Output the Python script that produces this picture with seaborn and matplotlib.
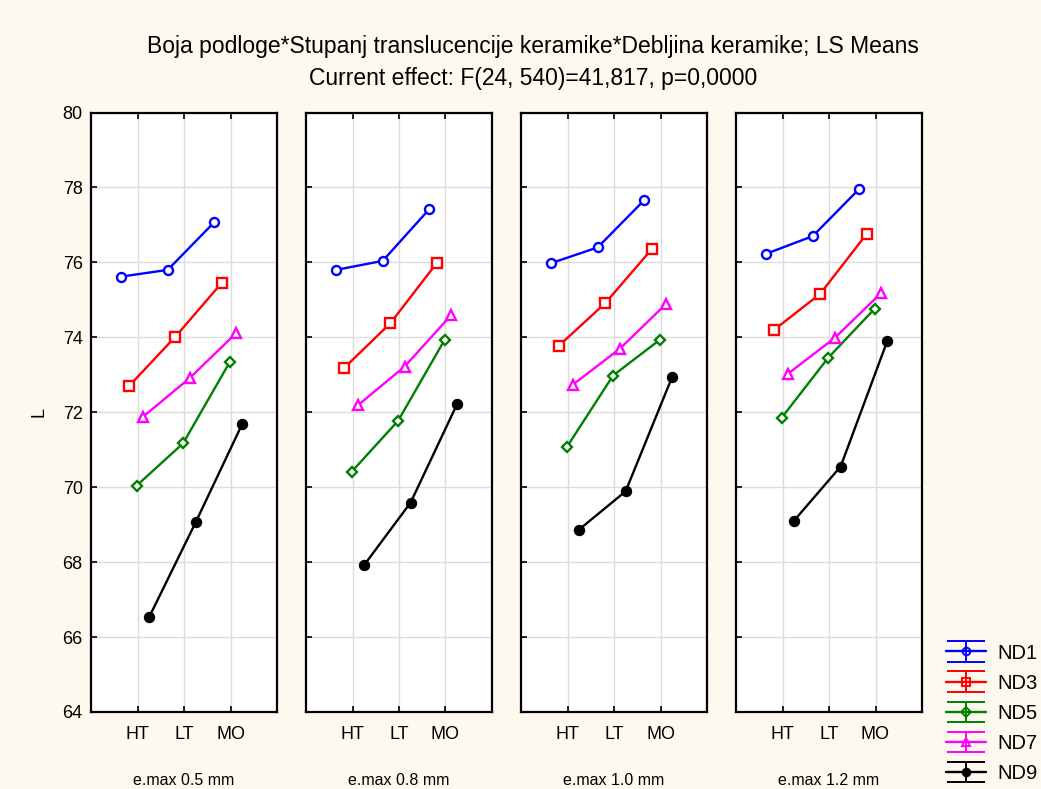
import numpy as np
import pandas as pd
import matplotlib
matplotlib.use("Agg")
import matplotlib.pyplot as plt
import seaborn as sns

# ---- data ----
panels = ["e.max 0.5 mm", "e.max 0.8 mm", "e.max 1.0 mm", "e.max 1.2 mm"]
categories = ["HT", "LT", "MO"]
series = ["ND1", "ND3", "ND5", "ND7", "ND9"]

nd1 = [[75.62, 75.80, 77.07], [75.80, 76.04, 77.42], [75.98, 76.40, 77.66], [76.23, 76.70, 77.96]]
nd3 = [[72.69, 74.01, 75.45], [73.17, 74.37, 75.98], [73.77, 74.91, 76.35], [74.19, 75.16, 76.76]]
nd5 = [[70.04, 71.17, 73.33], [70.41, 71.77, 73.93], [71.06, 72.98, 73.93], [71.85, 73.45, 74.76]]
nd7 = [[71.88, 72.91, 74.11], [72.19, 73.22, 74.59], [72.74, 73.69, 74.89], [73.03, 73.98, 75.18]]
nd9 = [[66.53, 69.06, 71.68], [67.92, 69.59, 72.22], [68.87, 69.89, 72.94], [69.11, 70.55, 73.89]]
values = {"ND1": nd1, "ND3": nd3, "ND5": nd5, "ND7": nd7, "ND9": nd9}

# styling
colors = {"ND1": "#0000ff", "ND3": "#ff0000", "ND5": "#008000", "ND7": "#ff00ff", "ND9": "#000000"}
markers = {"ND1": "o", "ND3": "s", "ND5": "D", "ND7": "^", "ND9": "o"}
filled = {"ND1": False, "ND3": False, "ND5": False, "ND7": False, "ND9": True}
offsets = {"ND1": -0.35, "ND3": -0.19, "ND5": -0.02, "ND7": 0.12, "ND9": 0.25}

rows = []
for s in series:
    for p, pname in enumerate(panels):
        for c, cat in enumerate(categories):
            rows.append({"panel": pname, "cat": cat, "series": s,
                         "x": c + 1 + offsets[s], "L": values[s][p][c]})
df = pd.DataFrame(rows)

sns.set_theme(style="white")
plt.rcParams["font.family"] = ["Liberation Sans", "DejaVu Sans"]
for key in ["text.color", "axes.labelcolor", "xtick.color", "ytick.color"]:
    plt.rcParams[key] = "black"
bg = "#fdf9ef"

fig = plt.figure(figsize=(10.41, 7.89), dpi=100, facecolor=bg)
W, H = 1041, 789
lefts = [91, 306, 521, 736]
pw = 186
top, bottom = 112.5, 712

axes = []
for i, pname in enumerate(panels):
    ax = fig.add_axes([lefts[i] / W, 1 - bottom / H, pw / W, (bottom - top) / H])
    ax.set_facecolor("white")
    sub = df[df["panel"] == pname]
    for s in series:
        d = sub[sub["series"] == s]
        sns.lineplot(data=d, x="x", y="L", color=colors[s], marker=markers[s],
                     markersize=6.5 if markers[s] != "D" else 5.5,
                     markeredgewidth=1.7,
                     markerfacecolor=colors[s] if filled[s] else "white",
                     markeredgecolor=colors[s], linewidth=1.7, ax=ax,
                     legend=False, sort=False)
    ax.set_xlim(0, 4)
    ax.set_ylim(64, 80)
    ax.set_xticks([1, 2, 3])
    ax.set_xticklabels(categories, fontsize=13)
    ax.set_yticks(np.arange(64, 81, 2))
    ax.grid(True, color="#dcdcdc", linewidth=1)
    ax.tick_params(direction="in", length=4, width=1.2, color="black",
                   top=True, bottom=True, left=True, right=False)
    ax.tick_params(axis="x", pad=10)
    ax.tick_params(axis="y", pad=6)
    if i == 0:
        ax.set_yticklabels([str(v) for v in range(64, 81, 2)], fontsize=13)
        ax.set_ylabel("L", fontsize=13, labelpad=11)
    else:
        ax.set_yticklabels([])
        ax.set_ylabel("")
    ax.set_xlabel(pname, fontsize=11.5, labelpad=22)
    for sp in ax.spines.values():
        sp.set_color("black")
        sp.set_linewidth(1.6)
        sp.set_visible(True)
    axes.append(ax)

fig.text(533 / W, 1 - 46 / H,
         "Boja podloge*Stupanj translucencije keramike*Debljina keramike; LS Means",
         ha="center", va="center", fontsize=16.5)
fig.text(533 / W, 1 - 78 / H, "Current effect: F(24, 540)=41,817, p=0,0000",
         ha="center", va="center", fontsize=16.5)

# legend with error-bar style glyphs
handles = []
for s in series:
    h = axes[-1].errorbar([np.nan], [np.nan], yerr=[np.nan], color=colors[s],
                          marker=markers[s], markersize=5.5,
                          markerfacecolor=colors[s] if filled[s] else "none",
                          markeredgewidth=1.4, capsize=14, elinewidth=1.4,
                          capthick=1.7, linewidth=1.7)
    handles.append(h)
fig.legend(handles, series, loc="lower right", bbox_to_anchor=(1.0, 0.004),
           frameon=False, fontsize=14.5, handlelength=1.95, handletextpad=0.6,
           labelspacing=0.55, borderaxespad=0.0, borderpad=0.15)

fig.savefig("out.png", dpi=100, facecolor=bg)
